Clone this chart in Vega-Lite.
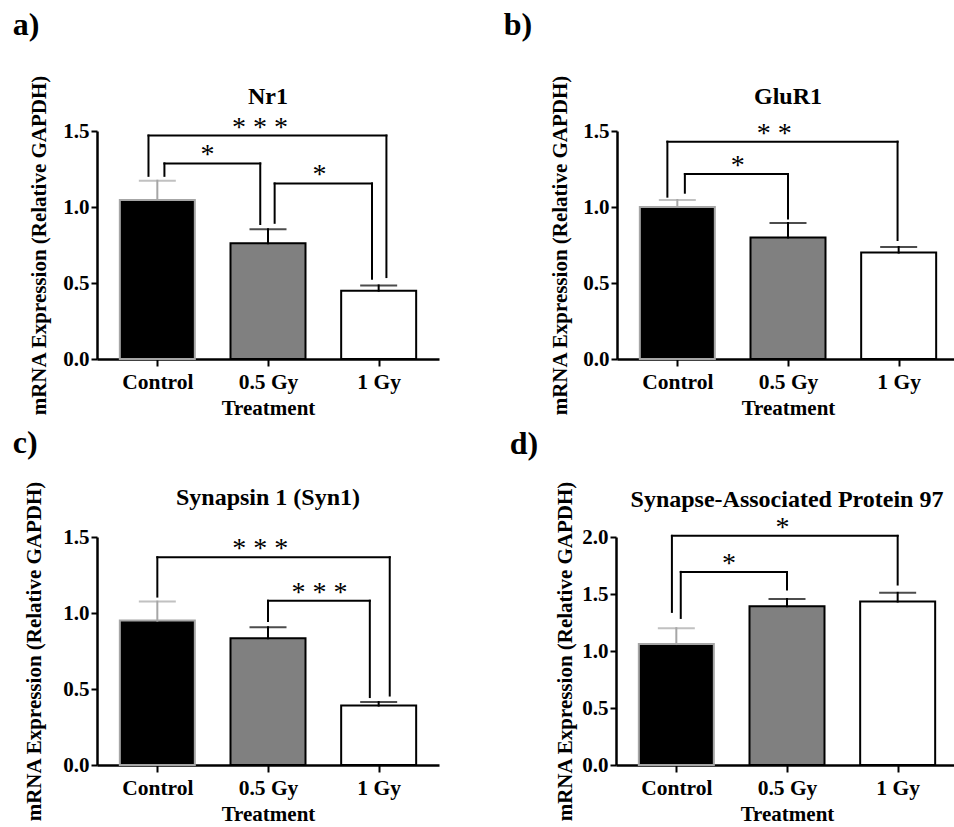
{
  "$schema": "https://vega.github.io/schema/vega-lite/v6.json",
  "background": "#ffffff",
  "padding": {"left": 12, "top": 8, "right": 0, "bottom": 0},
  "config": {
    "font": "Times New Roman, Liberation Serif, serif",
    "view": {"stroke": null},
    "axis": {"grid": false, "domainColor": "#000000", "domainWidth": 2.5, "tickColor": "#000000", "tickWidth": 2, "labelFont": "Times New Roman, Liberation Serif, serif", "labelFontWeight": "bold", "labelFontSize": 21, "labelColor": "#000000", "titleFont": "Times New Roman, Liberation Serif, serif", "titleFontWeight": "bold", "titleFontSize": 21, "titleColor": "#000000", "titleLimit": 2000, "labelOverlap": false},
    "axisX": {"tickSize": 7, "labelPadding": 5, "titlePadding": 5, "labelFontSize": 21.5},
    "axisY": {"tickSize": 6, "labelPadding": 2},
    "title": {"font": "Times New Roman, Liberation Serif, serif", "fontWeight": "bold", "fontSize": 24, "color": "#000000"},
    "rule": {"strokeWidth": 2, "strokeCap": "square", "color": "#000000"},
    "text": {"font": "Times New Roman, Liberation Serif, serif", "fontSize": 28, "fontWeight": "normal", "baseline": "alphabetic", "color": "#000000"}
  },
  "datasets": {
    "bars": [
      {"panel": "a", "idx": 0, "treatment": "Control", "mean": 1.046, "upper": 1.173},
      {"panel": "a", "idx": 1, "treatment": "0.5 Gy", "mean": 0.761, "upper": 0.853},
      {"panel": "a", "idx": 2, "treatment": "1 Gy", "mean": 0.449, "upper": 0.484},
      {"panel": "b", "idx": 0, "treatment": "Control", "mean": 1.0, "upper": 1.046},
      {"panel": "b", "idx": 1, "treatment": "0.5 Gy", "mean": 0.80, "upper": 0.895},
      {"panel": "b", "idx": 2, "treatment": "1 Gy", "mean": 0.70, "upper": 0.737},
      {"panel": "c", "idx": 0, "treatment": "Control", "mean": 0.95, "upper": 1.075},
      {"panel": "c", "idx": 1, "treatment": "0.5 Gy", "mean": 0.834, "upper": 0.906},
      {"panel": "c", "idx": 2, "treatment": "1 Gy", "mean": 0.391, "upper": 0.414},
      {"panel": "d", "idx": 0, "treatment": "Control", "mean": 1.061, "upper": 1.20},
      {"panel": "d", "idx": 1, "treatment": "0.5 Gy", "mean": 1.392, "upper": 1.457},
      {"panel": "d", "idx": 2, "treatment": "1 Gy", "mean": 1.434, "upper": 1.51}
    ],
    "brackets": [
      {"panel": "a", "x1": -0.08, "x2": 2.07, "top": 1.47, "yl": 1.205, "yr": 0.539, "xm": 0.927, "label": "* * *"},
      {"panel": "a", "x1": 0.064, "x2": 0.93, "top": 1.287, "yl": 1.205, "yr": 0.888, "xm": 0.453, "label": "*"},
      {"panel": "a", "x1": 1.06, "x2": 1.94, "top": 1.155, "yl": 0.896, "yr": 0.528, "xm": 1.465, "label": "*"},
      {"panel": "b", "x1": -0.09, "x2": 1.99, "top": 1.43, "yl": 1.068, "yr": 0.783, "xm": 0.875, "label": "* *"},
      {"panel": "b", "x1": 0.068, "x2": 1.0, "top": 1.217, "yl": 1.094, "yr": 0.925, "xm": 0.547, "label": "*"},
      {"panel": "c", "x1": 0.0, "x2": 2.1, "top": 1.367, "yl": 1.108, "yr": 0.457, "xm": 0.93, "label": "* * *"},
      {"panel": "c", "x1": 1.0, "x2": 1.92, "top": 1.081, "yl": 0.947, "yr": 0.447, "xm": 1.465, "label": "* * *"},
      {"panel": "d", "x1": -0.04, "x2": 2.0, "top": 2.01, "yl": 1.343, "yr": 1.583, "xm": 0.96, "label": "*"},
      {"panel": "d", "x1": 0.04, "x2": 1.0, "top": 1.694, "yl": 1.29, "yr": 1.539, "xm": 0.476, "label": "*"}
    ]
  },
  "spacing": 7,
  "vconcat": [
    {
      "spacing": 64,
      "hconcat": [
        {
          "title": {"text": "a)", "anchor": "start", "dx": -16, "fontSize": 32, "offset": 33},
          "vconcat": [{
            "width": 342, "height": 228,
            "title": {"text": "Nr1", "offset": -34},
            "layer": [
              {"data": {"name": "bars"}, "transform": [{"filter": "datum.panel === 'a'"}],
               "mark": {"type": "bar", "size": 75, "strokeWidth": 2},
               "encoding": {
                 "x": {"field": "idx", "type": "quantitative", "title": "Treatment", "scale": {"domain": [-0.5, 2.5], "nice": false, "zero": false}, "axis": {"values": [0, 1, 2], "labelExpr": "['Control','0.5 Gy','1 Gy'][datum.value]"}},
                 "y": {"field": "mean", "type": "quantitative", "title": "mRNA Expression (Relative GAPDH)", "scale": {"domain": [0, 1.5], "nice": false}, "axis": {"values": [0, 0.5, 1, 1.5], "format": ".1f", "titlePadding": 13}},
                 "fill": {"field": "treatment", "type": "nominal", "scale": {"domain": ["Control", "0.5 Gy", "1 Gy"], "range": ["#000000", "#808080", "#ffffff"]}, "legend": null},
                 "stroke": {"condition": {"test": "datum.treatment === 'Control'", "value": "#a6a6a6"}, "value": "#000000"}
               }},
              {"data": {"name": "bars"}, "transform": [{"filter": "datum.panel === 'a'"}],
               "mark": {"type": "rule"},
               "encoding": {
                 "x": {"field": "idx", "type": "quantitative", "title": "Treatment"},
                 "y": {"field": "mean", "type": "quantitative", "title": "mRNA Expression (Relative GAPDH)"},
                 "y2": {"field": "upper"},
                 "stroke": {"condition": {"test": "datum.treatment === 'Control'", "value": "#a6a6a6"}, "value": "#000000"}
               }},
              {"data": {"name": "bars"}, "transform": [{"filter": "datum.panel === 'a'"}],
               "mark": {"type": "tick", "orient": "horizontal", "size": 37, "thickness": 2},
               "encoding": {
                 "x": {"field": "idx", "type": "quantitative", "title": "Treatment"},
                 "y": {"field": "upper", "type": "quantitative", "title": "mRNA Expression (Relative GAPDH)"},
                 "color": {"condition": {"test": "datum.treatment === 'Control'", "value": "#a6a6a6"}, "value": "#000000"}
               }},
              {"data": {"name": "brackets"}, "transform": [{"filter": "datum.panel === 'a'"}],
               "mark": {"type": "rule"},
               "encoding": {
                 "x": {"field": "x1", "type": "quantitative", "title": "Treatment"},
                 "x2": {"field": "x2"},
                 "y": {"field": "top", "type": "quantitative", "title": "mRNA Expression (Relative GAPDH)"}
               }},
              {"data": {"name": "brackets"}, "transform": [{"filter": "datum.panel === 'a'"}],
               "mark": {"type": "rule"},
               "encoding": {
                 "x": {"field": "x1", "type": "quantitative", "title": "Treatment"},
                 "y": {"field": "yl", "type": "quantitative", "title": "mRNA Expression (Relative GAPDH)"},
                 "y2": {"field": "top"}
               }},
              {"data": {"name": "brackets"}, "transform": [{"filter": "datum.panel === 'a'"}],
               "mark": {"type": "rule"},
               "encoding": {
                 "x": {"field": "x2", "type": "quantitative", "title": "Treatment"},
                 "y": {"field": "yr", "type": "quantitative", "title": "mRNA Expression (Relative GAPDH)"},
                 "y2": {"field": "top"}
               }},
              {"data": {"name": "brackets"}, "transform": [{"filter": "datum.panel === 'a'"}],
               "mark": {"type": "text"},
               "encoding": {
                 "x": {"field": "xm", "type": "quantitative", "title": "Treatment"},
                 "y": {"field": "top", "type": "quantitative", "title": "mRNA Expression (Relative GAPDH)"},
                 "text": {"field": "label"}
               }}
            ]
          }]
        },
        {
          "title": {"text": "b)", "anchor": "start", "dx": -46, "fontSize": 32, "offset": 33},
          "vconcat": [{
            "width": 342, "height": 228,
            "title": {"text": "GluR1", "offset": -34},
            "layer": [
              {"data": {"name": "bars"}, "transform": [{"filter": "datum.panel === 'b'"}],
               "mark": {"type": "bar", "size": 75, "strokeWidth": 2},
               "encoding": {
                 "x": {"field": "idx", "type": "quantitative", "title": "Treatment", "scale": {"domain": [-0.5, 2.5], "nice": false, "zero": false}, "axis": {"values": [0, 1, 2], "labelExpr": "['Control','0.5 Gy','1 Gy'][datum.value]"}},
                 "y": {"field": "mean", "type": "quantitative", "title": "mRNA Expression (Relative GAPDH)", "scale": {"domain": [0, 1.5], "nice": false}, "axis": {"values": [0, 0.5, 1, 1.5], "format": ".1f", "titlePadding": 12}},
                 "fill": {"field": "treatment", "type": "nominal", "scale": {"domain": ["Control", "0.5 Gy", "1 Gy"], "range": ["#000000", "#808080", "#ffffff"]}, "legend": null},
                 "stroke": {"condition": {"test": "datum.treatment === 'Control'", "value": "#a6a6a6"}, "value": "#000000"}
               }},
              {"data": {"name": "bars"}, "transform": [{"filter": "datum.panel === 'b'"}],
               "mark": {"type": "rule"},
               "encoding": {
                 "x": {"field": "idx", "type": "quantitative", "title": "Treatment"},
                 "y": {"field": "mean", "type": "quantitative", "title": "mRNA Expression (Relative GAPDH)"},
                 "y2": {"field": "upper"},
                 "stroke": {"condition": {"test": "datum.treatment === 'Control'", "value": "#a6a6a6"}, "value": "#000000"}
               }},
              {"data": {"name": "bars"}, "transform": [{"filter": "datum.panel === 'b'"}],
               "mark": {"type": "tick", "orient": "horizontal", "size": 37, "thickness": 2},
               "encoding": {
                 "x": {"field": "idx", "type": "quantitative", "title": "Treatment"},
                 "y": {"field": "upper", "type": "quantitative", "title": "mRNA Expression (Relative GAPDH)"},
                 "color": {"condition": {"test": "datum.treatment === 'Control'", "value": "#a6a6a6"}, "value": "#000000"}
               }},
              {"data": {"name": "brackets"}, "transform": [{"filter": "datum.panel === 'b'"}],
               "mark": {"type": "rule"},
               "encoding": {
                 "x": {"field": "x1", "type": "quantitative", "title": "Treatment"},
                 "x2": {"field": "x2"},
                 "y": {"field": "top", "type": "quantitative", "title": "mRNA Expression (Relative GAPDH)"}
               }},
              {"data": {"name": "brackets"}, "transform": [{"filter": "datum.panel === 'b'"}],
               "mark": {"type": "rule"},
               "encoding": {
                 "x": {"field": "x1", "type": "quantitative", "title": "Treatment"},
                 "y": {"field": "yl", "type": "quantitative", "title": "mRNA Expression (Relative GAPDH)"},
                 "y2": {"field": "top"}
               }},
              {"data": {"name": "brackets"}, "transform": [{"filter": "datum.panel === 'b'"}],
               "mark": {"type": "rule"},
               "encoding": {
                 "x": {"field": "x2", "type": "quantitative", "title": "Treatment"},
                 "y": {"field": "yr", "type": "quantitative", "title": "mRNA Expression (Relative GAPDH)"},
                 "y2": {"field": "top"}
               }},
              {"data": {"name": "brackets"}, "transform": [{"filter": "datum.panel === 'b'"}],
               "mark": {"type": "text"},
               "encoding": {
                 "x": {"field": "xm", "type": "quantitative", "title": "Treatment"},
                 "y": {"field": "top", "type": "quantitative", "title": "mRNA Expression (Relative GAPDH)"},
                 "text": {"field": "label"}
               }}
            ]
          }]
        }
      ]
    },
    {
      "spacing": 70,
      "hconcat": [
        {
          "title": {"text": "c)", "anchor": "start", "dx": -11, "fontSize": 32, "offset": 21},
          "vconcat": [{
            "width": 342, "height": 228,
            "title": {"text": "Synapsin 1 (Syn1)", "offset": -29},
            "layer": [
              {"data": {"name": "bars"}, "transform": [{"filter": "datum.panel === 'c'"}],
               "mark": {"type": "bar", "size": 75, "strokeWidth": 2},
               "encoding": {
                 "x": {"field": "idx", "type": "quantitative", "title": "Treatment", "scale": {"domain": [-0.5, 2.5], "nice": false, "zero": false}, "axis": {"values": [0, 1, 2], "labelExpr": "['Control','0.5 Gy','1 Gy'][datum.value]"}},
                 "y": {"field": "mean", "type": "quantitative", "title": "mRNA Expression (Relative GAPDH)", "scale": {"domain": [0, 1.5], "nice": false}, "axis": {"values": [0, 0.5, 1, 1.5], "format": ".1f", "titlePadding": 18}},
                 "fill": {"field": "treatment", "type": "nominal", "scale": {"domain": ["Control", "0.5 Gy", "1 Gy"], "range": ["#000000", "#808080", "#ffffff"]}, "legend": null},
                 "stroke": {"condition": {"test": "datum.treatment === 'Control'", "value": "#a6a6a6"}, "value": "#000000"}
               }},
              {"data": {"name": "bars"}, "transform": [{"filter": "datum.panel === 'c'"}],
               "mark": {"type": "rule"},
               "encoding": {
                 "x": {"field": "idx", "type": "quantitative", "title": "Treatment"},
                 "y": {"field": "mean", "type": "quantitative", "title": "mRNA Expression (Relative GAPDH)"},
                 "y2": {"field": "upper"},
                 "stroke": {"condition": {"test": "datum.treatment === 'Control'", "value": "#a6a6a6"}, "value": "#000000"}
               }},
              {"data": {"name": "bars"}, "transform": [{"filter": "datum.panel === 'c'"}],
               "mark": {"type": "tick", "orient": "horizontal", "size": 37, "thickness": 2},
               "encoding": {
                 "x": {"field": "idx", "type": "quantitative", "title": "Treatment"},
                 "y": {"field": "upper", "type": "quantitative", "title": "mRNA Expression (Relative GAPDH)"},
                 "color": {"condition": {"test": "datum.treatment === 'Control'", "value": "#a6a6a6"}, "value": "#000000"}
               }},
              {"data": {"name": "brackets"}, "transform": [{"filter": "datum.panel === 'c'"}],
               "mark": {"type": "rule"},
               "encoding": {
                 "x": {"field": "x1", "type": "quantitative", "title": "Treatment"},
                 "x2": {"field": "x2"},
                 "y": {"field": "top", "type": "quantitative", "title": "mRNA Expression (Relative GAPDH)"}
               }},
              {"data": {"name": "brackets"}, "transform": [{"filter": "datum.panel === 'c'"}],
               "mark": {"type": "rule"},
               "encoding": {
                 "x": {"field": "x1", "type": "quantitative", "title": "Treatment"},
                 "y": {"field": "yl", "type": "quantitative", "title": "mRNA Expression (Relative GAPDH)"},
                 "y2": {"field": "top"}
               }},
              {"data": {"name": "brackets"}, "transform": [{"filter": "datum.panel === 'c'"}],
               "mark": {"type": "rule"},
               "encoding": {
                 "x": {"field": "x2", "type": "quantitative", "title": "Treatment"},
                 "y": {"field": "yr", "type": "quantitative", "title": "mRNA Expression (Relative GAPDH)"},
                 "y2": {"field": "top"}
               }},
              {"data": {"name": "brackets"}, "transform": [{"filter": "datum.panel === 'c'"}],
               "mark": {"type": "text"},
               "encoding": {
                 "x": {"field": "xm", "type": "quantitative", "title": "Treatment"},
                 "y": {"field": "top", "type": "quantitative", "title": "mRNA Expression (Relative GAPDH)"},
                 "text": {"field": "label"}
               }}
            ]
          }]
        },
        {
          "title": {"text": "d)", "anchor": "start", "dx": -45, "fontSize": 32, "offset": 20},
          "vconcat": [{
            "width": 342, "height": 228,
            "title": {"text": "Synapse-Associated Protein 97", "offset": -31},
            "layer": [
              {"data": {"name": "bars"}, "transform": [{"filter": "datum.panel === 'd'"}],
               "mark": {"type": "bar", "size": 75, "strokeWidth": 2},
               "encoding": {
                 "x": {"field": "idx", "type": "quantitative", "title": "Treatment", "scale": {"domain": [-0.5, 2.5], "nice": false, "zero": false}, "axis": {"values": [0, 1, 2], "labelExpr": "['Control','0.5 Gy','1 Gy'][datum.value]"}},
                 "y": {"field": "mean", "type": "quantitative", "title": "mRNA Expression (Relative GAPDH)", "scale": {"domain": [0, 2], "nice": false}, "axis": {"values": [0, 0.5, 1, 1.5, 2], "format": ".1f", "titlePadding": 6}},
                 "fill": {"field": "treatment", "type": "nominal", "scale": {"domain": ["Control", "0.5 Gy", "1 Gy"], "range": ["#000000", "#808080", "#ffffff"]}, "legend": null},
                 "stroke": {"condition": {"test": "datum.treatment === 'Control'", "value": "#a6a6a6"}, "value": "#000000"}
               }},
              {"data": {"name": "bars"}, "transform": [{"filter": "datum.panel === 'd'"}],
               "mark": {"type": "rule"},
               "encoding": {
                 "x": {"field": "idx", "type": "quantitative", "title": "Treatment"},
                 "y": {"field": "mean", "type": "quantitative", "title": "mRNA Expression (Relative GAPDH)"},
                 "y2": {"field": "upper"},
                 "stroke": {"condition": {"test": "datum.treatment === 'Control'", "value": "#a6a6a6"}, "value": "#000000"}
               }},
              {"data": {"name": "bars"}, "transform": [{"filter": "datum.panel === 'd'"}],
               "mark": {"type": "tick", "orient": "horizontal", "size": 37, "thickness": 2},
               "encoding": {
                 "x": {"field": "idx", "type": "quantitative", "title": "Treatment"},
                 "y": {"field": "upper", "type": "quantitative", "title": "mRNA Expression (Relative GAPDH)"},
                 "color": {"condition": {"test": "datum.treatment === 'Control'", "value": "#a6a6a6"}, "value": "#000000"}
               }},
              {"data": {"name": "brackets"}, "transform": [{"filter": "datum.panel === 'd'"}],
               "mark": {"type": "rule"},
               "encoding": {
                 "x": {"field": "x1", "type": "quantitative", "title": "Treatment"},
                 "x2": {"field": "x2"},
                 "y": {"field": "top", "type": "quantitative", "title": "mRNA Expression (Relative GAPDH)"}
               }},
              {"data": {"name": "brackets"}, "transform": [{"filter": "datum.panel === 'd'"}],
               "mark": {"type": "rule"},
               "encoding": {
                 "x": {"field": "x1", "type": "quantitative", "title": "Treatment"},
                 "y": {"field": "yl", "type": "quantitative", "title": "mRNA Expression (Relative GAPDH)"},
                 "y2": {"field": "top"}
               }},
              {"data": {"name": "brackets"}, "transform": [{"filter": "datum.panel === 'd'"}],
               "mark": {"type": "rule"},
               "encoding": {
                 "x": {"field": "x2", "type": "quantitative", "title": "Treatment"},
                 "y": {"field": "yr", "type": "quantitative", "title": "mRNA Expression (Relative GAPDH)"},
                 "y2": {"field": "top"}
               }},
              {"data": {"name": "brackets"}, "transform": [{"filter": "datum.panel === 'd'"}],
               "mark": {"type": "text"},
               "encoding": {
                 "x": {"field": "xm", "type": "quantitative", "title": "Treatment"},
                 "y": {"field": "top", "type": "quantitative", "title": "mRNA Expression (Relative GAPDH)"},
                 "text": {"field": "label"}
               }}
            ]
          }]
        }
      ]
    }
  ]
}
